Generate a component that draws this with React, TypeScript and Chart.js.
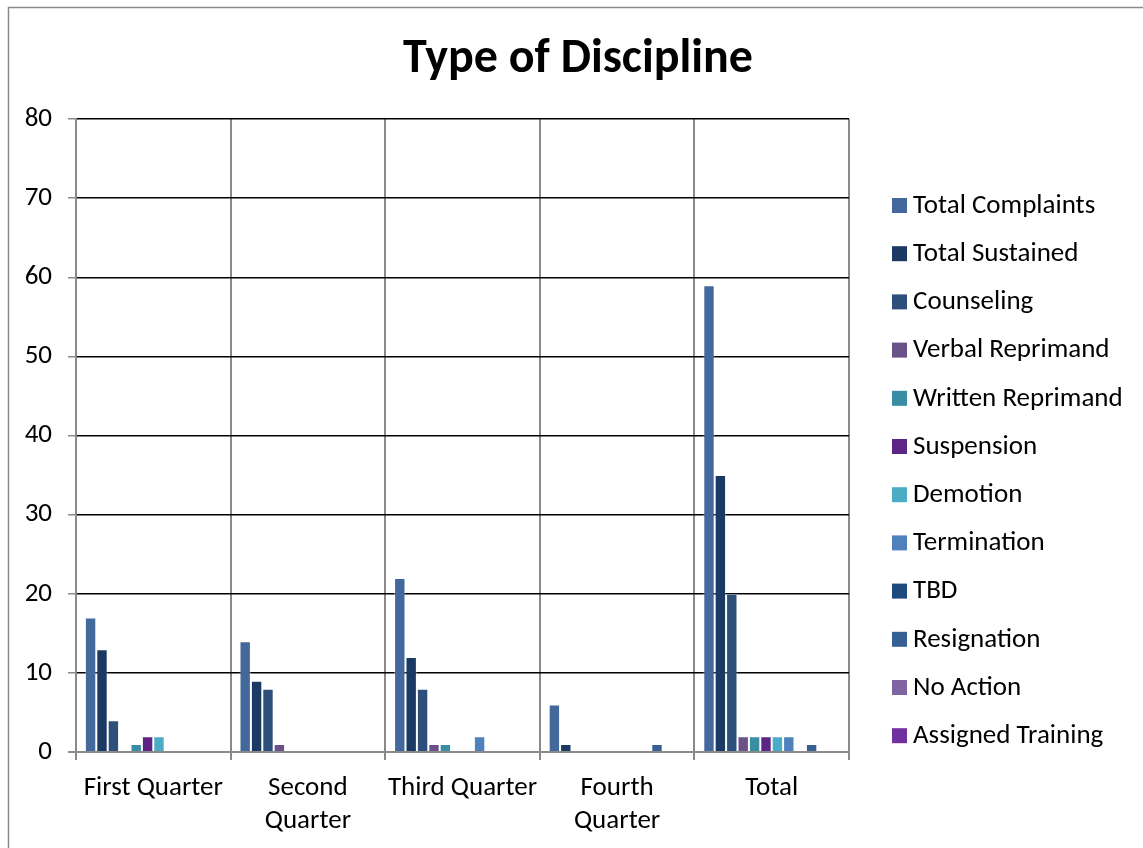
import React, { useEffect, useRef } from "react";
import { Chart, registerables } from "chart.js";

Chart.register(...registerables);

const chartTitle = "Type of Discipline";

const categories: (string | string[])[] = [
  "First Quarter",
  ["Second", "Quarter"],
  "Third Quarter",
  ["Fourth", "Quarter"],
  "Total",
];

const seriesNames = [
  "Total Complaints",
  "Total Sustained",
  "Counseling",
  "Verbal Reprimand",
  "Written Reprimand",
  "Suspension",
  "Demotion",
  "Termination",
  "TBD",
  "Resignation",
  "No Action",
  "Assigned Training",
];

const seriesColors = [
  "#43699c",
  "#1b3a63",
  "#2d4f7a",
  "#6a5187",
  "#3a8ea3",
  "#5c2484",
  "#4bacc6",
  "#4f81bd",
  "#1f4a7e",
  "#376092",
  "#8064a2",
  "#7030a0",
];

// values per series, in category order
const totalComplaints = [17, 14, 22, 6, 59];
const totalSustained = [13, 9, 12, 1, 35];
const counseling = [4, 8, 8, 0, 20];
const verbalReprimand = [0, 1, 1, 0, 2];
const writtenReprimand = [1, 0, 1, 0, 2];
const suspension = [2, 0, 0, 0, 2];
const demotion = [2, 0, 0, 0, 2];
const termination = [0, 0, 2, 0, 2];
const tbd = [0, 0, 0, 0, 0];
const resignation = [0, 0, 0, 1, 1];
const noAction = [0, 0, 0, 0, 0];
const assignedTraining = [0, 0, 0, 0, 0];

const seriesValues = [
  totalComplaints,
  totalSustained,
  counseling,
  verbalReprimand,
  writtenReprimand,
  suspension,
  demotion,
  termination,
  tbd,
  resignation,
  noAction,
  assignedTraining,
];

const yTicks = [0, 10, 20, 30, 40, 50, 60, 70, 80];

const FONT = "Carlito, Lato, 'Open Sans', sans-serif";
const GRAY = "#8a8a8a";

// Outer frame, title and a right-hand legend built from the datasets
const frameAndLegend = {
  id: "frameAndLegend",
  beforeDraw(chart: any) {
    const ctx = chart.ctx;
    ctx.save();
    ctx.fillStyle = "#ffffff";
    ctx.fillRect(0, 0, chart.width, chart.height);
    ctx.strokeStyle = GRAY;
    ctx.lineWidth = 1.5;
    ctx.strokeRect(8.5, 7.5, chart.width + 50, chart.height + 50);
    ctx.restore();
  },
  afterDraw(chart: any) {
    const ctx = chart.ctx;
    ctx.save();
    ctx.fillStyle = "#000";
    ctx.font = `bold 48px ${FONT}`;
    ctx.textAlign = "center";
    ctx.textBaseline = "middle";
    ctx.fillText(chartTitle, 578, 60);

    ctx.font = `27px ${FONT}`;
    ctx.textAlign = "left";
    chart.data.datasets.forEach((ds: any, i: number) => {
      const cy = 205 + i * 48.2;
      ctx.fillStyle = ds.backgroundColor;
      ctx.fillRect(892, cy - 7, 15, 15);
      ctx.fillStyle = "#000";
      ctx.fillText(ds.label, 913, cy + 1);
    });
    ctx.restore();
  },
};

export default function App() {
  const ref = useRef<HTMLCanvasElement | null>(null);

  useEffect(() => {
    if (!ref.current) return;
    const chart = new Chart(ref.current, {
      type: "bar",
      data: {
        labels: categories,
        datasets: seriesNames.map((name, i) => ({
          label: name,
          data: seriesValues[i],
          backgroundColor: seriesColors[i],
          borderColor: "rgba(255,255,255,0.35)",
          borderWidth: 1,
          borderSkipped: "start",
          categoryPercentage: 0.885,
          barPercentage: 1,
        })),
      },
      options: {
        animation: false,
        responsive: false,
        devicePixelRatio: 1,
        layout: { padding: { left: 0, right: 294, top: 119, bottom: 0 } },
        plugins: {
          legend: { display: false },
          tooltip: { enabled: false },
          title: { display: false },
        },
        scales: {
          x: {
            offset: true,
            grid: {
              offset: true,
              color: GRAY,
              lineWidth: 2,
              tickColor: GRAY,
              tickLength: 8,
            },
            border: { color: GRAY, width: 2 },
            ticks: {
              color: "#000",
              font: { family: FONT, size: 27, lineHeight: 1.22 },
              padding: 12,
              maxRotation: 0,
              autoSkip: false,
            },
            afterFit(scale: any) {
              scale.height = 96;
            },
          },
          y: {
            min: 0,
            max: 80,
            afterBuildTicks(scale: any) {
              scale.ticks = yTicks.map((v) => ({ value: v }));
            },
            grid: {
              color: (c: any) => (c.tick && c.tick.value === 0 ? GRAY : "#000"),
              lineWidth: (c: any) => (c.tick && c.tick.value === 0 ? 2 : 1.5),
              tickColor: GRAY,
              tickLength: 8,
            },
            border: { color: GRAY, width: 2 },
            ticks: {
              color: "#000",
              font: { family: FONT, size: 27 },
              padding: 16,
            },
            afterFit(scale: any) {
              scale.width = 76;
            },
          },
        },
      },
      plugins: [frameAndLegend],
    });
    return () => chart.destroy();
  }, []);

  return (
    <div style={{ position: "absolute", left: 0, top: 0, width: 1143, height: 848, overflow: "hidden" }}>
      <canvas ref={ref} width={1143} height={848} style={{ display: "block", width: 1143, height: 848 }} />
    </div>
  );
}
